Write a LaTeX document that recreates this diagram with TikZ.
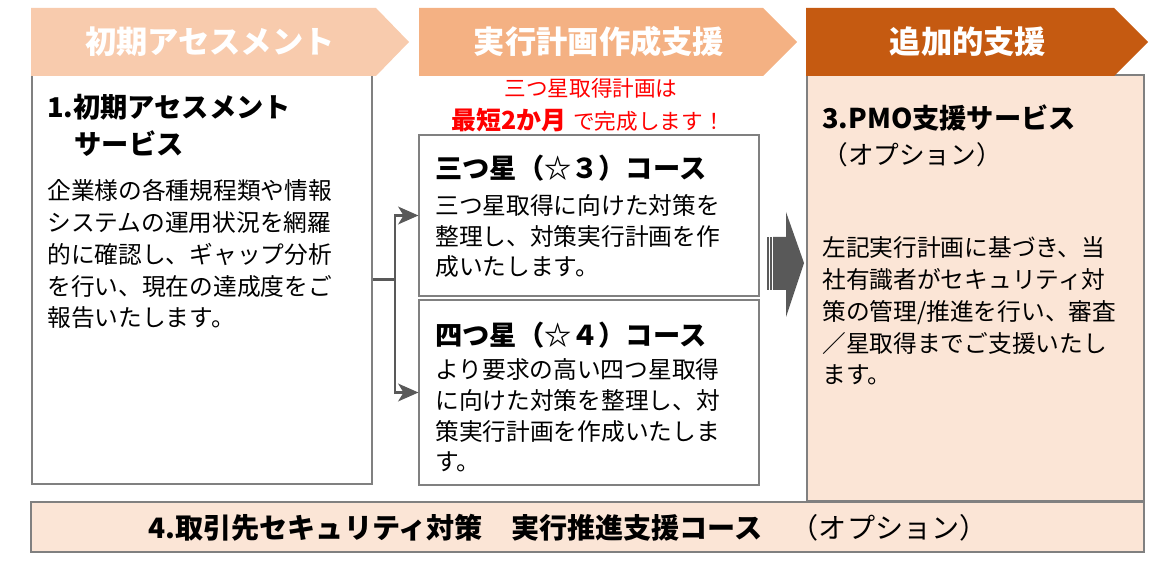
\documentclass[tikz,border=0pt]{standalone}
\usepackage{fontspec}
\setmainfont{Noto Sans CJK JP}
\usetikzlibrary{arrows.meta}

\definecolor{peachA}{HTML}{F8CBAD}
\definecolor{peachB}{HTML}{F4B183}
\definecolor{rust}{HTML}{C55A11}
\definecolor{pale}{HTML}{FBE5D6}
\definecolor{frame}{HTML}{808080}
\definecolor{darkgray}{HTML}{595959}

\newcommand{\px}{0.02cm}

\tikzstyle{plainbox} = [draw=frame,line width=0.6pt,fill=white,inner sep=0pt]
\tikzstyle{palebox} = [plainbox,fill=pale]
\tikzstyle{stagetext} = [text=white,font=\fontsize{17.8}{20}\selectfont\bfseries,inner sep=0pt]
\tikzstyle{headtext} = [font=\fontsize{15.5}{21.5}\selectfont\bfseries,align=left,inner sep=0pt]
\tikzstyle{subtext} = [font=\fontsize{14.6}{18}\selectfont,inner sep=0pt]
\tikzstyle{bodytext} = [font=\fontsize{13.5}{18.1}\selectfont,align=left,inner sep=0pt]
\tikzstyle{bodytight} = [bodytext,font=\fontsize{13.5}{17.6}\selectfont]
\tikzstyle{note} = [text=red,font=\fontsize{12.3}{14}\selectfont,inner sep=0pt]
\tikzstyle{link} = [draw=darkgray,line width=1.7pt]
\tikzstyle{linkarrow} = [link,-{Stealth[length=11.5pt,width=10pt,inset=3pt]}]

\begin{document}
\begin{tikzpicture}[x=\px,y=-\px]
	\useasboundingbox (0,0) rectangle (1173,573);
	
	% boxes
	\node[plainbox,minimum width=340*\px,minimum height=409*\px] (b1) at (202,279.5) {};
	\node[plainbox,minimum width=340*\px,minimum height=161*\px] (b2a) at (589,215.5) {};
	\node[plainbox,minimum width=340*\px,minimum height=185*\px] (b2b) at (589,392.5) {};
	\node[palebox,minimum width=337*\px,minimum height=426*\px] (b3) at (975.5,288) {};
	\node[palebox,minimum width=1113*\px,minimum height=50*\px] (b4) at (587.5,527) {};
	
	% stage headers
	\fill[peachA] (31,8) -- (376,8) -- (409,42) -- (376,76) -- (31,76) -- cycle;
	\fill[peachB] (419,8) -- (763,8) -- (797,42) -- (763,76) -- (419,76) -- cycle;
	\fill[rust] (806,8) -- (1114,8) -- (1148,42) -- (1114,76) -- (806,76) -- cycle;
	\node[stagetext] (s1) at (210,42) {初期アセスメント};
	\node[stagetext] (s2) at (599,42) {実行計画作成支援};
	\node[stagetext] (s3) at (968,42) {追加的支援};
	
	% branch from box 1
	\coordinate (fork) at (395,279.5);
	\draw[link] (b1.east) -- (fork);
	\draw[linkarrow] (fork) |- (b2a.west);
	\draw[linkarrow] (fork) |- (b2b.west);
	
	% striped block arrow
	\fill[darkgray] (773,237) -- (786,237) -- (786,212) -- (804,263) -- (786,317) -- (786,290) -- (773,290) -- cycle;
	\fill[darkgray] (767.3,237) rectangle (769.3,290);
	\fill[darkgray] (770.3,237) rectangle (772,290);
	
	% texts (base = last line)
	\node[headtext,anchor=base west] (t1) at (47,155) {1.初期アセスメント\\　サービス};
	\node[bodytext,anchor=base west] (p1) at (47,327) {企業様の各種規程類や情報\\システムの運用状況を網羅\\的に確認し、ギャップ分析\\を行い、現在の達成度をご\\報告いたします。};
	
	\node[note] (n1) at (591,88) {三つ星取得計画は};
	\node[note] (n2) at (588,120) {{\fontsize{14.2}{16}\selectfont\bfseries 最短2か月}\hspace{4pt}で完成します！};
	
	\node[headtext,anchor=west] (t2a) at (435,168) {三つ星（☆３）コース};
	\node[bodytight,anchor=base west] (p2a) at (435,276) {三つ星取得に向けた対策を\\整理し、対策実行計画を作\\成いたします。};
	\node[headtext,anchor=west] (t2b) at (435,335) {四つ星（☆４）コース};
	\node[bodytight,anchor=base west] (p2b) at (435,471) {より要求の高い四つ星取得\\に向けた対策を整理し、対\\策実行計画を作成いたしま\\す。};
	
	\node[headtext,anchor=west] (t3) at (822,118) {3.PMO支援サービス};
	\node[subtext,anchor=west] (t3b) at (822,155) {（オプション）};
	\node[bodytext,anchor=base west] (p3) at (822,384) {左記実行計画に基づき、当\\社有識者がセキュリティ対\\策の管理/推進を行い、審査\\／星取得までご支援いたし\\ます。};
	
	\node[headtext,font=\fontsize{16}{20}\selectfont\bfseries] (t4) at (568,528) {4.取引先セキュリティ対策　実行推進支援コース　{\mdseries （オプション）}};
\end{tikzpicture}
\end{document}
